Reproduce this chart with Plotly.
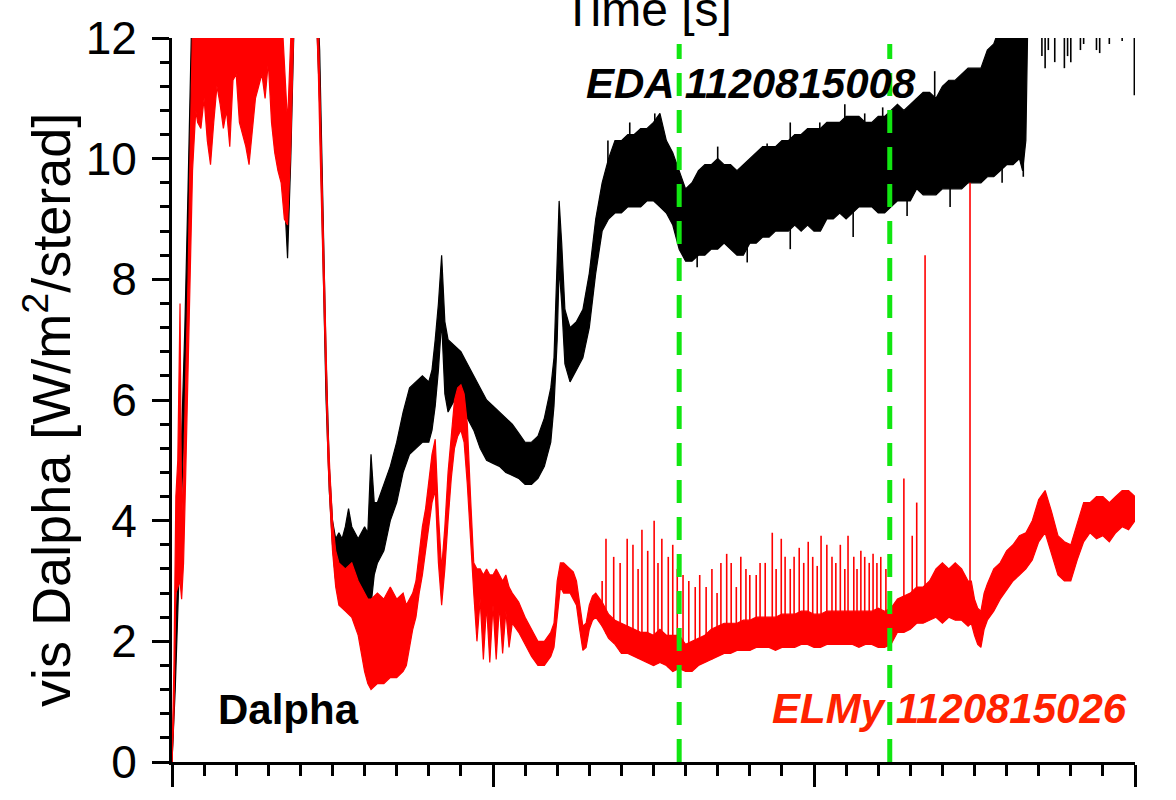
import numpy as np
import plotly.graph_objects as go

# ---- EDA shot 1120815008 (black): noisy Dalpha band, lower / upper envelope ----
BLACK_T = [0.000, 0.005, 0.010, 0.015, 0.020, 0.025, 0.030, 0.035, 0.050, 0.100, 0.160,
           0.165, 0.170, 0.175, 0.180, 0.185, 0.190, 0.200, 0.220, 0.225, 0.230, 0.235,
           0.240, 0.245, 0.250, 0.255, 0.260, 0.265, 0.270, 0.275, 0.280, 0.285, 0.290,
           0.295, 0.300, 0.305, 0.310, 0.315, 0.320, 0.330, 0.340, 0.350, 0.360, 0.370,
           0.380, 0.390, 0.400, 0.405, 0.410, 0.415, 0.420, 0.425, 0.430, 0.440, 0.450,
           0.460, 0.470, 0.480, 0.490, 0.500, 0.510, 0.520, 0.530, 0.540, 0.550, 0.560,
           0.570, 0.580, 0.590, 0.595, 0.600, 0.603, 0.607, 0.612, 0.620, 0.630, 0.640,
           0.650, 0.660, 0.670, 0.680, 0.690, 0.700, 0.710, 0.720, 0.730, 0.740, 0.750,
           0.760, 0.770, 0.780, 0.790, 0.800, 0.810, 0.820, 0.830, 0.840, 0.850, 0.860,
           0.870, 0.880, 0.890, 0.900, 0.910, 0.920, 0.930, 0.940, 0.950, 0.960, 0.970,
           0.980, 0.990, 1.000, 1.010, 1.020, 1.030, 1.040, 1.050, 1.060, 1.070, 1.080,
           1.090, 1.100, 1.110, 1.120, 1.130, 1.140, 1.150, 1.160, 1.170, 1.180, 1.190,
           1.200, 1.210, 1.220, 1.230, 1.240, 1.250, 1.260, 1.270, 1.280, 1.290, 1.300,
           1.310, 1.320, 1.325, 1.330, 1.333, 1.400, 1.450, 1.500]
BLACK_LO = [0.0, 1.2, 2.8, 4.2, 5.9, 8.0, 10.5, 12.3, 12.5, 12.5, 12.5,
            12.2, 10.8, 9.4, 8.35, 10.0, 12.2, 12.5, 12.5, 12.4, 10.9, 8.4,
            6.0, 4.5, 3.6, 3.0, 2.8, 2.7, 2.6, 2.7, 2.8, 2.6, 2.5,
            2.4, 2.4, 2.3, 2.6, 3.1, 3.3, 3.5, 4.0, 4.3, 4.8, 5.1,
            5.2, 5.3, 5.3, 5.5, 5.9, 6.5, 7.3, 6.1, 5.8, 6.0, 5.9,
            5.7, 5.5, 5.2, 5.0, 4.95, 4.9, 4.8, 4.75, 4.7, 4.6, 4.6,
            4.7, 4.9, 5.3, 5.9, 7.0, 8.2, 7.6, 6.6, 6.3, 6.5, 6.7,
            7.2, 8.1, 8.8, 9.0, 9.1, 9.1, 9.2, 9.2, 9.2, 9.3, 9.3,
            9.2, 9.1, 8.9, 8.5, 8.3, 8.3, 8.4, 8.4, 8.5, 8.5, 8.6,
            8.5, 8.4, 8.4, 8.6, 8.6, 8.7, 8.7, 8.8, 8.8, 8.8, 8.9,
            8.8, 8.9, 8.8, 8.8, 9.0, 9.0, 9.1, 9.0, 9.1, 9.2, 9.2,
            9.2, 9.1, 9.1, 9.2, 9.3, 9.3, 9.3, 9.5, 9.4, 9.4, 9.4,
            9.5, 9.5, 9.5, 9.5, 9.6, 9.6, 9.6, 9.7, 9.7, 9.8, 9.9,
            9.9, 10.0, 9.8, 10.3, 12.3, 12.3, 12.3, 12.3]
BLACK_HI = [0.0, 1.8, 3.8, 5.3, 7.2, 9.5, 12.0, 13.0, 13.0, 13.0, 13.0,
            13.0, 12.0, 10.6, 9.2, 11.2, 13.0, 13.0, 13.0, 13.0, 11.8, 9.3,
            6.7, 4.9, 4.0, 3.7, 3.8, 3.7, 3.9, 4.2, 3.9, 3.8, 3.7,
            3.8, 3.9, 3.8, 5.1, 4.3, 4.3, 4.6, 4.9, 5.3, 5.8, 6.2,
            6.3, 6.4, 6.3, 6.5, 7.0, 7.6, 8.4, 7.3, 7.0, 6.9, 6.8,
            6.6, 6.4, 6.2, 6.0, 5.9, 5.8, 5.7, 5.6, 5.45, 5.3, 5.3,
            5.4, 5.7, 6.2, 6.7, 8.4, 9.3, 8.6, 7.5, 7.2, 7.3, 7.5,
            8.1, 9.0, 9.6, 10.0, 10.3, 10.3, 10.4, 10.4, 10.5, 10.5, 10.6,
            10.75, 10.3, 10.1, 9.8, 9.5, 9.6, 9.8, 9.9, 9.9, 10.0, 9.9,
            9.9, 9.8, 9.9, 10.0, 10.1, 10.2, 10.2, 10.2, 10.3, 10.3, 10.4,
            10.4, 10.5, 10.5, 10.5, 10.6, 10.6, 10.6, 10.7, 10.7, 10.7, 10.6,
            10.6, 10.7, 10.7, 10.8, 10.9, 10.8, 10.9, 11.0, 11.1, 11.1, 11.0,
            11.2, 11.3, 11.3, 11.4, 11.5, 11.5, 11.5, 11.8, 11.9, 12.2, 12.5,
            12.6, 12.6, 12.6, 12.8, 13.0, 13.0, 13.0, 13.0]

# isolated excursions of the black trace beyond its band (incl. dips from the
# saturated top at the end of the shot): time, value
BLACK_SPIKE_T = [0.679, 0.713, 0.752, 0.850, 0.927, 0.963, 1.009, 1.048, 1.079,
                 1.107, 1.160, 1.188, 1.223, 1.263, 1.285,
                 0.818, 0.896, 0.963, 1.061, 1.145, 1.212, 1.293, 1.326,
                 1.355, 1.360, 1.365, 1.375, 1.390, 1.395, 1.400, 1.415, 1.420,
                 1.440, 1.445, 1.460, 1.480, 1.499]
BLACK_SPIKE_V = [10.3, 10.6, 10.75, 10.2, 10.25, 10.6, 10.6, 10.9, 10.75,
                 10.85, 11.0, 11.45, 11.15, 11.3, 11.6,
                 8.2, 8.28, 8.5, 8.7, 9.05, 9.2, 9.6, 9.7,
                 11.7, 11.5, 11.8, 11.6, 11.5, 11.7, 11.6, 11.8, 11.9,
                 11.8, 11.75, 11.9, 11.95, 11.05]

# ---- ELMy shot 1120815026 (red): Dalpha band, lower / upper envelope ----
RED_T = [0.000, 0.003, 0.006, 0.009, 0.0125, 0.015, 0.018, 0.021, 0.025, 0.028, 0.032,
         0.037, 0.040, 0.045, 0.050, 0.055, 0.060, 0.065, 0.070, 0.075, 0.080, 0.085,
         0.090, 0.095, 0.100, 0.105, 0.110, 0.115, 0.120, 0.125, 0.130, 0.135, 0.140,
         0.145, 0.150, 0.155, 0.160, 0.165, 0.170, 0.175, 0.180, 0.185, 0.190, 0.200,
         0.220, 0.225, 0.228, 0.231, 0.234, 0.237, 0.240, 0.243, 0.246, 0.250, 0.255,
         0.260, 0.270, 0.280, 0.290, 0.295, 0.300, 0.305, 0.310, 0.320, 0.330, 0.340,
         0.350, 0.360, 0.365, 0.370, 0.375, 0.380, 0.385, 0.390, 0.395, 0.400, 0.405,
         0.410, 0.415, 0.420, 0.425, 0.430, 0.435, 0.440, 0.445, 0.450, 0.455, 0.460,
         0.465, 0.470, 0.475, 0.480, 0.485, 0.490, 0.495, 0.500, 0.505, 0.510, 0.515,
         0.520, 0.525, 0.530, 0.540, 0.550, 0.560, 0.570, 0.580, 0.590, 0.595, 0.600,
         0.605, 0.610, 0.620, 0.625, 0.630, 0.635, 0.640, 0.645, 0.650, 0.655, 0.660,
         0.670, 0.680, 0.690, 0.700, 0.710, 0.720, 0.730, 0.740, 0.750, 0.760, 0.770,
         0.780, 0.790, 0.800, 0.810, 0.820, 0.830, 0.840, 0.850, 0.860, 0.870, 0.880,
         0.890, 0.900, 0.910, 0.920, 0.930, 0.940, 0.950, 0.960, 0.970, 0.980, 0.990,
         1.000, 1.010, 1.020, 1.030, 1.040, 1.050, 1.060, 1.070, 1.080, 1.090, 1.100,
         1.110, 1.120, 1.130, 1.140, 1.150, 1.160, 1.170, 1.180, 1.190, 1.200, 1.210,
         1.220, 1.230, 1.240, 1.245, 1.250, 1.255, 1.260, 1.265, 1.270, 1.280, 1.290,
         1.300, 1.310, 1.320, 1.330, 1.340, 1.350, 1.360, 1.370, 1.380, 1.390, 1.400,
         1.410, 1.420, 1.430, 1.440, 1.450, 1.460, 1.470, 1.480, 1.490, 1.500]
RED_LO = [0.0, 0.8, 2.8, 2.9, 3.0, 2.7, 3.3, 4.6, 6.6, 8.3, 9.8,
          10.8, 10.6, 10.5, 11.0, 10.3, 9.9, 10.6, 11.2, 10.9, 10.5, 10.8,
          10.2, 11.3, 11.4, 10.6, 10.4, 10.2, 9.9, 10.5, 11.0, 11.2, 11.4,
          11.0, 11.6, 10.6, 10.1, 9.8, 9.6, 9.0, 8.9, 10.2, 12.3, 12.5,
          12.5, 12.4, 11.4, 10.0, 8.7, 7.3, 6.0, 5.0, 4.3, 3.5, 2.9,
          2.6, 2.5, 2.4, 2.1, 1.8, 1.5, 1.3, 1.2, 1.3, 1.3, 1.4,
          1.4, 1.5, 1.6, 1.9, 2.2, 2.4, 2.8, 3.1, 3.5, 3.9, 4.3,
          4.5, 3.3, 2.6, 3.2, 4.0, 4.7, 5.2, 5.4, 5.5, 5.3, 4.6,
          3.6, 2.8, 2.0, 2.7, 1.7, 2.6, 1.65, 2.6, 1.7, 2.6, 1.8,
          2.5, 1.9, 2.3, 2.15, 1.95, 1.75, 1.6, 1.6, 1.75, 1.9, 2.4,
          2.9, 2.8, 2.8, 2.7, 2.6, 2.2, 1.85, 1.9, 2.2, 2.35, 2.4,
          2.25, 2.05, 1.95, 1.8, 1.8, 1.75, 1.7, 1.65, 1.6, 1.65, 1.6,
          1.5, 1.55, 1.5, 1.5, 1.6, 1.65, 1.7, 1.75, 1.8, 1.8, 1.85,
          1.85, 1.85, 1.9, 1.9, 1.9, 1.85, 1.9, 1.9, 1.9, 1.95, 1.95,
          1.9, 1.9, 1.95, 1.95, 1.95, 1.95, 1.95, 1.9, 1.95, 1.95, 1.9,
          1.9, 1.95, 2.15, 2.15, 2.2, 2.3, 2.3, 2.35, 2.4, 2.3, 2.4,
          2.35, 2.35, 2.25, 2.3, 2.1, 1.95, 1.9, 2.2, 2.35, 2.5, 2.7,
          2.85, 3.0, 3.1, 3.2, 3.35, 3.65, 3.8, 3.45, 3.1, 3.0, 3.0,
          3.35, 3.65, 3.8, 3.7, 3.75, 3.65, 3.8, 3.9, 3.85, 4.0]
RED_HI = [0.0, 1.6, 4.4, 5.0, 7.6, 4.0, 4.8, 6.2, 8.0, 10.0, 12.2,
          13.0, 13.0, 13.0, 13.0, 13.0, 13.0, 13.0, 13.0, 13.0, 13.0, 13.0,
          13.0, 13.0, 13.0, 13.0, 13.0, 13.0, 13.0, 13.0, 13.0, 13.0, 13.0,
          13.0, 13.0, 13.0, 13.0, 13.0, 12.6, 11.5, 10.6, 12.0, 13.0, 13.0,
          13.0, 13.0, 12.2, 10.8, 9.4, 7.9, 6.6, 5.5, 4.8, 4.0, 3.5,
          3.3, 3.2, 3.3, 3.0, 2.9, 2.8, 2.7, 2.7, 2.8, 2.7, 2.9,
          2.7, 2.8, 2.6, 2.7, 2.8, 3.0, 3.5, 3.9, 4.2, 4.7, 5.1,
          5.35, 4.1, 3.2, 3.9, 4.8, 5.4, 6.0, 6.2, 6.25, 6.1, 5.6,
          4.4, 3.3, 3.2, 3.2, 3.1, 3.2, 3.1, 3.1, 3.2, 3.1, 3.0,
          3.1, 2.9, 2.8, 2.65, 2.4, 2.2, 2.0, 2.0, 2.15, 2.3, 3.0,
          3.3, 3.3, 3.2, 3.15, 3.0, 2.6, 2.25, 2.3, 2.6, 2.75, 2.8,
          2.65, 2.45, 2.35, 2.3, 2.25, 2.2, 2.15, 2.15, 2.1, 2.2, 2.1,
          2.1, 2.1, 1.95, 2.0, 2.05, 2.1, 2.2, 2.25, 2.3, 2.3, 2.3,
          2.35, 2.35, 2.4, 2.4, 2.4, 2.4, 2.45, 2.45, 2.45, 2.5, 2.5,
          2.45, 2.45, 2.5, 2.5, 2.5, 2.5, 2.5, 2.5, 2.5, 2.5, 2.55,
          2.5, 2.55, 2.7, 2.75, 2.8, 2.9, 2.9, 3.0, 3.2, 3.3, 3.2,
          3.3, 3.2, 3.0, 3.0, 2.7, 2.55, 2.5, 2.8, 2.95, 3.2, 3.3,
          3.5, 3.6, 3.75, 3.8, 4.0, 4.35, 4.5, 4.15, 3.75, 3.65, 3.6,
          3.95, 4.3, 4.3, 4.4, 4.4, 4.3, 4.4, 4.5, 4.5, 4.4]

# ---- ELM bursts on the red trace: time and peak value ----
ELM_T = [0.670, 0.676, 0.688, 0.698, 0.709, 0.718, 0.726, 0.732, 0.741, 0.751, 0.757,
         0.763, 0.773, 0.780, 0.787, 0.796, 0.805, 0.815, 0.822, 0.832, 0.841, 0.849,
         0.855, 0.864, 0.871, 0.879, 0.886, 0.894, 0.900, 0.910, 0.916, 0.924, 0.935,
         0.941, 0.949, 0.955, 0.963, 0.969, 0.977, 0.984, 0.991, 0.998, 1.005, 1.011,
         1.020, 1.028, 1.034, 1.041, 1.048, 1.053, 1.062, 1.067, 1.073, 1.079, 1.086,
         1.092, 1.098, 1.104, 1.112, 1.140, 1.153, 1.160, 1.173, 1.243]
ELM_PEAK = [3.0, 3.7, 3.4, 3.3, 3.7, 3.6, 3.2, 3.85, 3.5, 4.0, 3.3,
            3.7, 3.4, 3.6, 3.2, 3.1, 3.0, 2.9, 3.1, 2.9, 3.2, 2.8,
            3.3, 3.45, 3.3, 2.9, 3.4, 3.2, 3.1, 3.1, 3.3, 3.3, 3.8,
            3.2, 3.7, 3.4, 3.2, 3.4, 3.55, 3.3, 3.65, 3.4, 3.25, 3.75,
            3.6, 3.4, 3.3, 3.6, 3.2, 3.75, 3.4, 3.2, 3.5, 3.4, 3.3,
            3.45, 3.3, 3.4, 3.2, 4.7, 3.75, 4.3, 8.4, 9.6]

# time windows compared between the two shots
WINDOW_T = [0.79, 1.118]

BLACK = "#000000"
RED = "#ff0000"
GREEN = "#11e611"
FONT = "Liberation Sans, Arial, Helvetica, sans-serif"

fig = go.Figure()


def add_band(t, lo, hi, color, name):
    fig.add_trace(go.Scatter(x=t, y=hi, mode="lines", line=dict(color=color, width=1.2),
                             hoverinfo="skip", showlegend=False, name=name))
    fig.add_trace(go.Scatter(x=t, y=lo, mode="lines", line=dict(color=color, width=1.2),
                             fill="tonexty", fillcolor=color, hoverinfo="skip",
                             showlegend=False, name=name))


def add_spikes(t_list, base, peak, color, width):
    sx, sy = [], []
    for t, b, p in zip(t_list, base, peak):
        sx += [t, t, None]
        sy += [b, p, None]
    fig.add_trace(go.Scatter(x=sx, y=sy, mode="lines", line=dict(color=color, width=width),
                             hoverinfo="skip", showlegend=False))


add_band(BLACK_T, BLACK_LO, BLACK_HI, BLACK, "EDA 1120815008")
# black excursions start from the middle of the band
black_mid = (np.interp(BLACK_SPIKE_T, BLACK_T, BLACK_LO)
             + np.interp(BLACK_SPIKE_T, BLACK_T, BLACK_HI)) / 2
add_spikes(BLACK_SPIKE_T, black_mid, BLACK_SPIKE_V, BLACK, 1.6)

add_band(RED_T, RED_LO, RED_HI, RED, "ELMy 1120815026")
# ELM spikes rising from the lower edge of the red band
add_spikes(ELM_T, np.interp(ELM_T, RED_T, RED_LO), ELM_PEAK, RED, 1.6)

# dashed green markers of the compared time windows
for t in WINDOW_T:
    fig.add_trace(go.Scatter(x=[t, t], y=[0, 11.9], mode="lines",
                             line=dict(color=GREEN, width=5, dash="23px,14px"),
                             hoverinfo="skip", showlegend=False))

fig.update_layout(
    width=1176, height=800,
    margin=dict(l=172, r=41, t=34, b=34),
    paper_bgcolor="white", plot_bgcolor="white",
    font=dict(family=FONT, color="black"),
    showlegend=False,
)
fig.update_xaxes(
    range=[0, 1.5], showgrid=False, zeroline=False,
    showline=True, linecolor="black", linewidth=3,
    ticks="outside", ticklen=22, tickwidth=2.5, tickcolor="black",
    tick0=0, dtick=0.5, showticklabels=False,
    minor=dict(ticks="outside", dtick=0.05, ticklen=11, tickwidth=2.5, tickcolor="black"),
)
fig.update_yaxes(
    range=[0, 12], showgrid=False, zeroline=False,
    showline=True, linecolor="black", linewidth=3,
    ticks="outside", ticklen=17, tickwidth=3, tickcolor="black",
    tick0=0, dtick=2, tickfont=dict(size=46, family=FONT, color="black"),
    ticklabelstandoff=6,
    minor=dict(ticks="outside", dtick=0.4, ticklen=9, tickwidth=3, tickcolor="black"),
)

annotations = [
    dict(text="Time [s]", x=0.494, y=1.0, xref="paper", yref="paper",
         xanchor="center", yanchor="bottom", showarrow=False,
         font=dict(size=48, family=FONT, color="black")),
    dict(text="vis Dalpha [W/m<sup>2</sup>/sterad]", x=-0.129, y=0.486,
         xref="paper", yref="paper", xanchor="center", yanchor="middle",
         textangle=-90, showarrow=False,
         font=dict(size=54, family=FONT, color="black")),
    dict(text="<b><i>EDA 1120815008</i></b>", x=0.601, y=0.937,
         xref="paper", yref="paper", xanchor="center", yanchor="middle",
         showarrow=False, font=dict(size=42, family=FONT, color="black")),
    dict(text="<b>Dalpha</b>", x=0.1205, y=0.0724,
         xref="paper", yref="paper", xanchor="center", yanchor="middle",
         showarrow=False, font=dict(size=42, family=FONT, color="black")),
    dict(text="<b><i>ELMy 1120815026</i></b>", x=0.807, y=0.0738,
         xref="paper", yref="paper", xanchor="center", yanchor="middle",
         showarrow=False, font=dict(size=42, family=FONT, color="#ff2200")),
]
fig.update_layout(annotations=annotations)

fig.write_html("out.html")
